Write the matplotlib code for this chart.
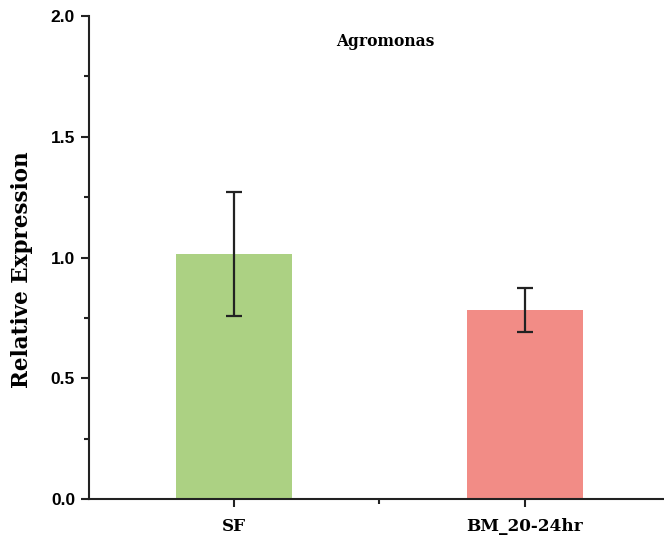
import matplotlib
matplotlib.use("Agg")
import matplotlib.pyplot as plt
from matplotlib.ticker import MultipleLocator, FixedLocator

categories = ["SF", "BM_20-24hr"]
values = [1.015, 0.783]
errors = [0.255, 0.092]
colors = ["#acd183", "#f28c86"]
title = "Agromonas"
ylabel = "Relative Expression"

fig = plt.figure(figsize=(6.64, 5.38), dpi=100)
ax = fig.add_axes([0.134, 0.0725, 0.866, 0.8975])

xs = [1, 2]
ax.bar(xs, values, width=0.4, color=colors, zorder=2)
ax.errorbar(xs, values, yerr=errors, fmt="none", ecolor="#222222",
            elinewidth=1.6, capsize=6, capthick=1.6, zorder=3)

ax.set_xlim(0.5, 2.48)
ax.set_ylim(0, 2.0)
ax.set_xticks(xs)
ax.set_xticklabels(categories, fontfamily="DejaVu Serif", fontweight="bold", fontsize=12.2)
ax.xaxis.set_minor_locator(FixedLocator([1.5]))
ax.yaxis.set_minor_locator(MultipleLocator(0.25))
ax.set_yticks([0, 0.5, 1.0, 1.5, 2.0])
ax.set_yticklabels(["0.0", "0.5", "1.0", "1.5", "2.0"], fontfamily="Liberation Sans",
                   fontweight="bold", fontsize=12.5)

for s in ["top", "right"]:
    ax.spines[s].set_visible(False)
for s in ["left", "bottom"]:
    ax.spines[s].set_linewidth(1.5)
    ax.spines[s].set_color("#222222")

ax.tick_params(axis="both", which="major", direction="out", length=6, width=1.5, color="#222222")
ax.tick_params(axis="both", which="minor", direction="out", length=3.5, width=1.5, color="#222222")
ax.tick_params(axis="x", which="major", pad=8)
ax.tick_params(axis="y", which="major", pad=4)

ax.set_ylabel(ylabel, fontfamily="DejaVu Serif", fontweight="bold", fontsize=15.5)
ax.yaxis.set_label_coords(-0.097, 0.474)
fig.text(385 / 664, 1 - 42 / 538, title, fontsize=11.2, fontweight="bold",
         fontfamily="DejaVu Serif", ha="center", va="center")

fig.savefig("out.png", dpi=100)
